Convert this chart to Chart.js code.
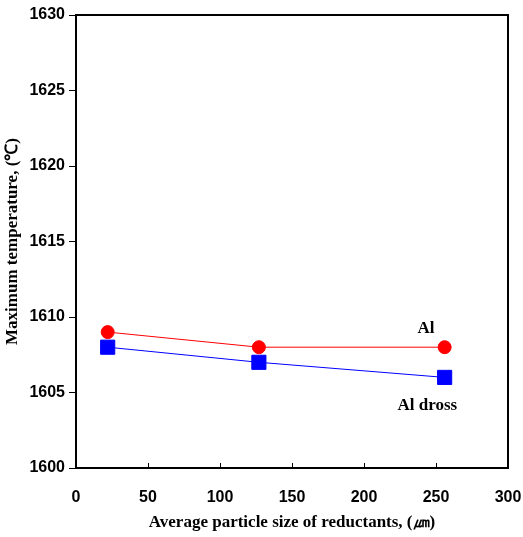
<!DOCTYPE html>
<html>
<head>
<meta charset="utf-8">
<script src="https://cdn.jsdelivr.net/npm/chart.js@4"></script>
<style>
  html, body { margin: 0; padding: 0; background: #fff; }
  #wrap { width: 523px; height: 537px; }
</style>
</head>
<body>
<div id="wrap"><canvas id="temp-chart" width="523" height="537"></canvas></div>
<script>
const particleSize = [22, 127, 256];
const alTemp = [1609, 1608, 1608];
const drossTemp = [1608, 1607, 1606];
const xTicks = [0, 50, 100, 150, 200, 250, 300];
const yTicks = [1600, 1605, 1610, 1615, 1620, 1625, 1630];
const seriesLabels = [
  { text: "Al", x: 243, y: 1609.2 },
  { text: "Al dross", x: 244, y: 1604.1 },
];

const tickFont = { family: "Liberation Sans", size: 16, weight: "bold" };
const titleFont = { family: "Liberation Serif", size: 17, weight: "bold" };

// frame, inward x ticks and the series labels
const extras = {
  id: "extras",
  afterDraw(chart) {
    const { ctx, chartArea: a, scales } = chart;
    ctx.save();
    ctx.strokeStyle = "#000";
    ctx.lineWidth = 2;
    ctx.strokeRect(a.left, a.top, a.right - a.left, a.bottom - a.top);
    ctx.lineWidth = 1;
    xTicks.forEach(v => {
      const px = Math.round(scales.x.getPixelForValue(v)) + 0.5;
      ctx.beginPath();
      ctx.moveTo(px, a.bottom);
      ctx.lineTo(px, a.bottom - 5);
      ctx.stroke();
    });
    ctx.fillStyle = "#000";
    ctx.font = "bold 17px 'Liberation Serif'";
    ctx.textAlign = "center";
    ctx.textBaseline = "middle";
    seriesLabels.forEach(l => {
      ctx.fillText(l.text, scales.x.getPixelForValue(l.x), scales.y.getPixelForValue(l.y));
    });
    ctx.restore();
  },
};

const config = {
  type: "line",
  data: {
    datasets: [
      {
        label: "Al",
        data: particleSize.map((x, i) => ({ x, y: alTemp[i] })),
        borderColor: "#ff0000",
        backgroundColor: "#ff0000",
        borderWidth: 1,
        pointStyle: "circle",
        pointRadius: 6.5,
        pointHoverRadius: 6.5,
      },
      {
        label: "Al dross",
        data: particleSize.map((x, i) => ({ x, y: drossTemp[i] })),
        borderColor: "#0000ff",
        backgroundColor: "#0000ff",
        borderWidth: 1,
        pointStyle: "rect",
        pointRadius: 10,
        pointHoverRadius: 10,
      },
    ],
  },
  options: {
    responsive: false,
    animation: false,
    layout: { padding: { top: 15, right: 15, left: 0, bottom: 0 } },
    plugins: {
      legend: { display: false },
      tooltip: { enabled: false },
    },
    scales: {
      x: {
        type: "linear",
        min: 0,
        max: 300,
        afterBuildTicks: s => { s.ticks = xTicks.map(v => ({ value: v })); },
        afterFit: s => { s.height = 69; s.paddingRight = 0; s.paddingLeft = 0; },
        grid: { display: false },
        border: { display: false },
        ticks: { color: "#000", font: tickFont, padding: 12, maxRotation: 0 },
        title: {
          display: true,
          text: "Average particle size of reductants, (㎛)",
          color: "#000",
          font: titleFont,
          padding: { top: 6 },
        },
      },
      y: {
        min: 1600,
        max: 1630,
        afterBuildTicks: s => { s.ticks = yTicks.map(v => ({ value: v })); },
        afterFit: s => { s.width = 76; s.paddingTop = 0; s.paddingBottom = 0; },
        grid: { drawOnChartArea: false, drawTicks: true, tickLength: 7, color: "#000" },
        border: { display: false },
        ticks: { color: "#000", font: tickFont, padding: 4, callback: v => String(v) },
        title: {
          display: true,
          text: "Maximum temperature, (℃)",
          color: "#000",
          font: titleFont,
          padding: { top: 2, bottom: 0 },
        },
      },
    },
  },
  plugins: [extras],
};

const ctx = document.getElementById("temp-chart").getContext("2d");
const tempChart = new Chart(ctx, config);
</script>
</body>
</html>
